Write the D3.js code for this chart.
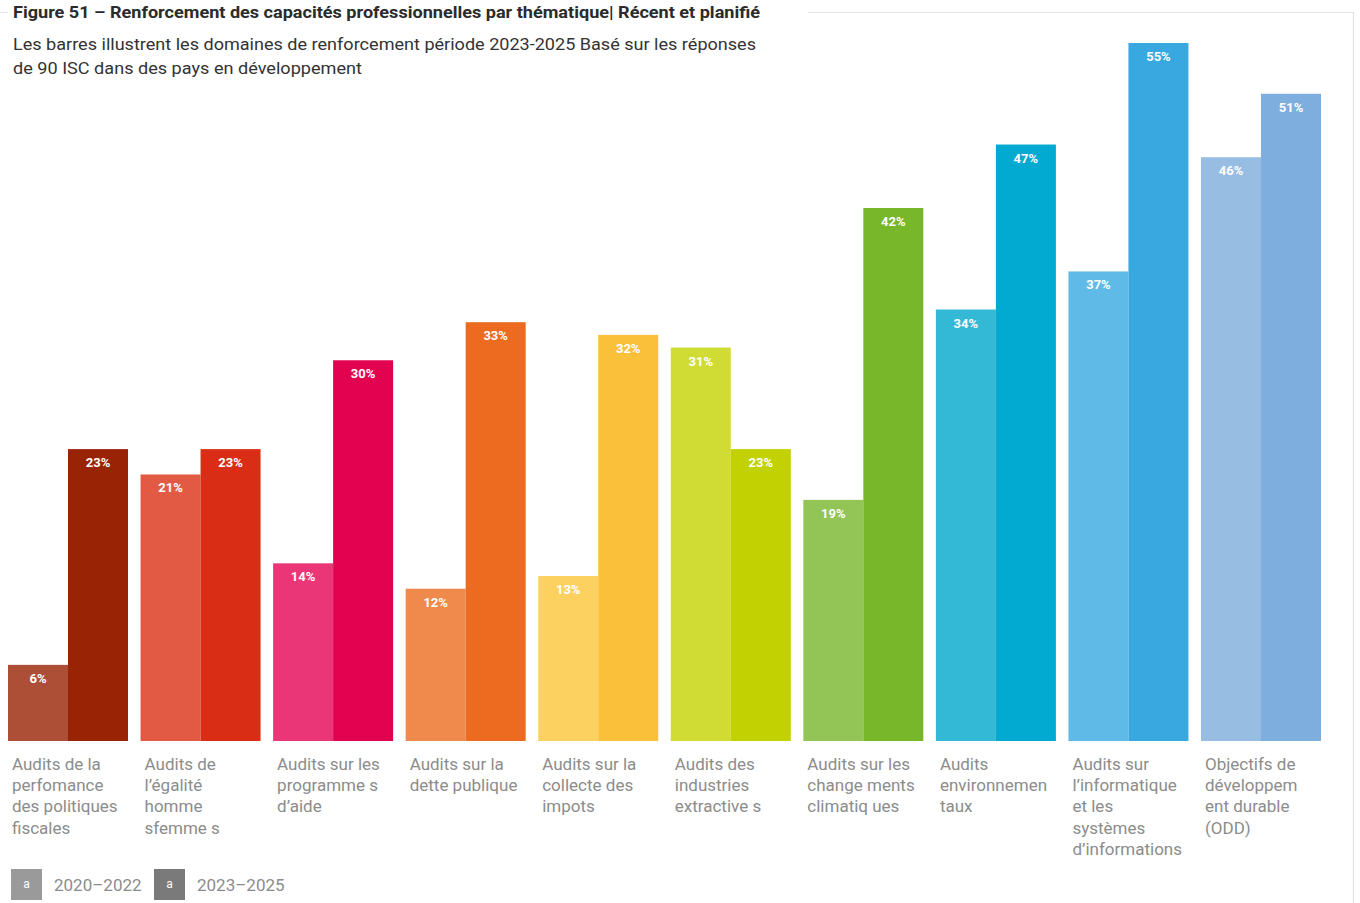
<!DOCTYPE html>
<html>
<head>
<meta charset="utf-8">
<script src="https://cdn.jsdelivr.net/npm/d3@7"></script>
<style>
  html, body { margin: 0; padding: 0; background: #fff; }
  svg { display: block; font-family: Roboto, "Noto Sans", sans-serif; }
</style>
</head>
<body>
<svg id="chart" width="1360" height="903"></svg>
<script>
// Thematic areas (label lines as set in the publication)
const categories = [
  ["Audits de la", "perfomance", "des politiques", "fiscales"],
  ["Audits de", "l’égalité", "homme", "sfemme s"],
  ["Audits sur les", "programme s", "d’aide"],
  ["Audits sur la", "dette publique"],
  ["Audits sur la", "collecte des", "impots"],
  ["Audits des", "industries", "extractive s"],
  ["Audits sur les", "change ments", "climatiq ues"],
  ["Audits", "environnemen", "taux"],
  ["Audits sur", "l’informatique", "et les", "systèmes", "d’informations"],
  ["Objectifs de", "développem", "ent durable", "(ODD)"]
];
const seriesNames = ["2020–2022", "2023–2025"];
const values2020 = [6, 21, 14, 12, 13, 31, 19, 34, 37, 46];
const values2023 = [23, 23, 30, 33, 32, 23, 42, 47, 55, 51];
// light / dark shade per theme
const colorsLight = ["#ad4f37", "#e25a43", "#ea3576", "#f08a4c", "#fcd160", "#d0dc34", "#93c456", "#33b8d6", "#5fbae8", "#98bde3"];
const colorsDark  = ["#992305", "#da2d16", "#e3024f", "#ec6b20", "#fbc03a", "#c1d101", "#78b72a", "#02a9d0", "#3aa8e0", "#7daedd"];
const legendColors = ["#9a9a9a", "#7a7a7a"];

const svg = d3.select("#chart");

// frame lines
svg.append("line").attr("x1", 0).attr("x2", 1353).attr("y1", 12.5).attr("y2", 12.5)
  .attr("stroke", "#e3e3e3").attr("stroke-width", 1.2);
svg.append("line").attr("x1", 1353.5).attr("x2", 1353.5).attr("y1", 12).attr("y2", 903)
  .attr("stroke", "#e3e3e3").attr("stroke-width", 1.2);

// title block
svg.append("rect").attr("x", 8).attr("y", 0).attr("width", 800).attr("height", 26).attr("fill", "#fff");
svg.append("text").attr("x", 13).attr("y", 18)
  .attr("font-size", 17).attr("font-weight", 700).attr("fill", "#2b2b2b")
  .attr("textLength", 747).attr("lengthAdjust", "spacingAndGlyphs")
  .text("Figure 51 – Renforcement des capacités professionnelles par thématique| Récent et planifié");
svg.append("text").attr("x", 13).attr("y", 50)
  .attr("font-size", 17).attr("fill", "#333")
  .attr("textLength", 743).attr("lengthAdjust", "spacingAndGlyphs")
  .text("Les barres illustrent les domaines de renforcement période 2023-2025 Basé sur les réponses");
svg.append("text").attr("x", 13).attr("y", 74)
  .attr("font-size", 17).attr("fill", "#333")
  .attr("textLength", 349).attr("lengthAdjust", "spacingAndGlyphs")
  .text("de 90 ISC dans des pays en développement");

// scales
const idx = d3.range(categories.length);
const x = d3.scaleBand().domain(idx).range([8, 1321]).paddingInner(0.0947).paddingOuter(0);
const xs = d3.scaleBand().domain([0, 1]).range([0, x.bandwidth()]);
const y = d3.scaleLinear().domain([0, 55]).range([741, 43]);

const rows = idx.map(i => ({
  i,
  bars: [
    { s: 0, v: values2020[i], c: colorsLight[i] },
    { s: 1, v: values2023[i], c: colorsDark[i] }
  ]
}));

const g = svg.append("g").selectAll("g").data(rows).join("g")
  .attr("transform", d => `translate(${x(d.i)},0)`);

g.selectAll("rect").data(d => d.bars).join("rect")
  .attr("x", b => xs(b.s)).attr("width", xs.bandwidth())
  .attr("y", b => y(b.v)).attr("height", b => y(0) - y(b.v))
  .attr("fill", b => b.c);

g.selectAll("text.val").data(d => d.bars).join("text")
  .attr("class", "val")
  .attr("x", b => xs(b.s) + xs.bandwidth() / 2)
  .attr("y", b => y(b.v) + 18)
  .attr("text-anchor", "middle").attr("font-size", 13).attr("font-weight", 700)
  .attr("fill", "#fff")
  .text(b => b.v + "%");

// category labels
g.append("text")
  .attr("font-size", 17).attr("fill", "#8c8c8c")
  .selectAll("tspan").data(d => categories[d.i]).join("tspan")
  .attr("x", 4).attr("y", (t, k) => 770 + k * 21.2)
  .text(t => t);

// legend
const legendX = [11, 154];
const lg = svg.append("g").selectAll("g").data(seriesNames).join("g")
  .attr("transform", (d, k) => `translate(${legendX[k]},869)`);
lg.append("rect").attr("width", 31).attr("height", 31).attr("fill", (d, k) => legendColors[k]);
lg.append("text").attr("x", 15.5).attr("y", 19).attr("text-anchor", "middle")
  .attr("font-size", 12).attr("fill", "#fff").text("a");
lg.append("text").attr("x", 43).attr("y", 22)
  .attr("font-size", 17).attr("fill", "#8c8c8c").text(d => d);
</script>
</body>
</html>
